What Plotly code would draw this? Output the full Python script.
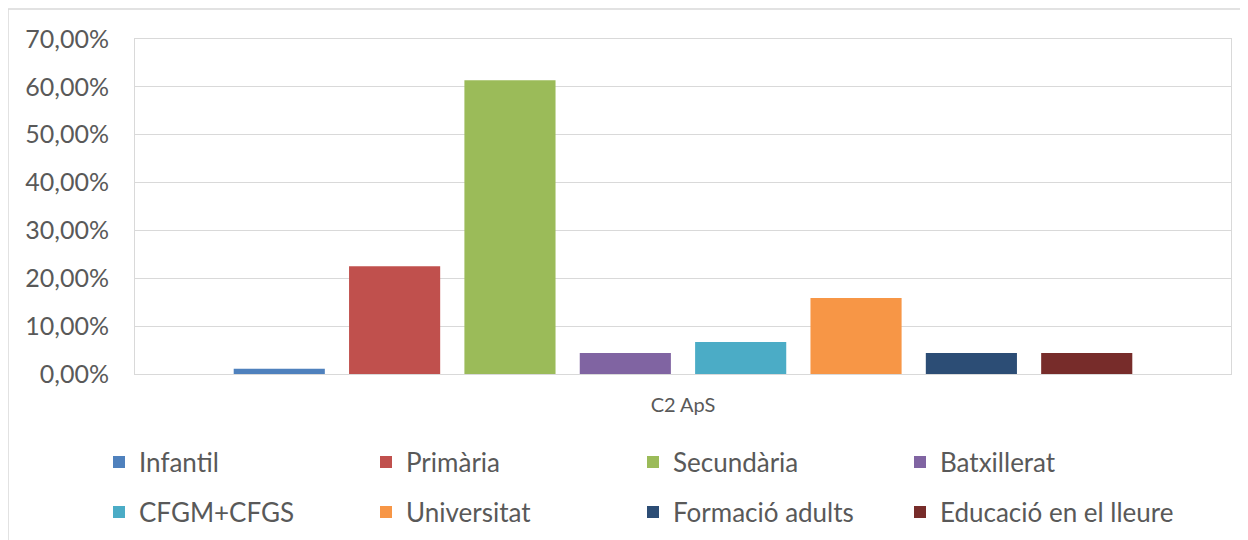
import plotly.graph_objects as go

category = ["C2 ApS"]
series_names = ["Infantil", "Primària", "Secundària", "Batxillerat",
                "CFGM+CFGS", "Universitat", "Formació adults", "Educació en el lleure"]
series_values = [0.011, 0.225, 0.614, 0.044, 0.067, 0.159, 0.044, 0.044]
series_colors = ["#4F81BD", "#C0504D", "#9BBB59", "#8064A2",
                 "#4BACC6", "#F79646", "#2C4D75", "#772C2A"]
y_ticks = [0, 0.1, 0.2, 0.3, 0.4, 0.5, 0.6, 0.7]

FONT = "Lato"
TXT = "#595959"
GRID = "#d9d9d9"

# page body has an 8px margin: figure occupies page (8,8)-(1248,540)
W, H = 1240, 532
L, R, T, B = 127, 17, 31, 166
PW = W - L - R   # 1096
PH = H - T - B   # 335

legend_ids = ["legend", "legend", "legend", "legend",
              "legend2", "legend2", "legend2", "legend3"]

fig = go.Figure()
for name, val, col, lg in zip(series_names, series_values, series_colors, legend_ids):
    fig.add_trace(go.Bar(
        x=category, y=[val], name=name, marker_color=col,
        marker_line_width=0, legend=lg,
    ))

legend_common = dict(
    orientation="h", xref="container", yref="container",
    xanchor="left", yanchor="middle",
    font=dict(family=FONT, size=26, color=TXT),
    entrywidth=222, entrywidthmode="pixels",
    bgcolor="rgba(0,0,0,0)", borderwidth=0,
    itemclick=False, itemdoubleclick=False,
)
legend_last = dict(legend_common)
legend_last.pop("entrywidth")
legend_last.pop("entrywidthmode")

fig.update_layout(
    width=W, height=H,
    margin=dict(l=L, r=R, t=T, b=B),
    paper_bgcolor="white", plot_bgcolor="white",
    barmode="group", bargap=0.158, bargroupgap=0.21,
    separators=",.",
    font=dict(family=FONT, color=TXT),
    showlegend=True,
    legend=dict(x=91 / W, y=1 - 454 / H, **legend_common),
    legend2=dict(x=91 / W, y=1 - 504 / H, **legend_common),
    legend3=dict(x=(91 + 3 * 267) / W, y=1 - 504 / H, **legend_last),
    xaxis=dict(
        type="category",
        showline=True, linecolor=GRID, linewidth=1, mirror=True,
        showgrid=False,
        ticks="outside", ticklen=13, tickcolor="rgba(0,0,0,0)",
        tickfont=dict(family=FONT, size=20, color=TXT),
    ),
    yaxis=dict(
        range=[0, 0.7], tickvals=y_ticks, tickformat=".2%",
        showline=True, linecolor=GRID, linewidth=1, mirror=True,
        showgrid=True, gridcolor=GRID, gridwidth=1,
        zeroline=False,
        ticks="outside", ticklen=20, tickcolor="rgba(0,0,0,0)",
        tickfont=dict(family=FONT, size=25, color=TXT),
    ),
    shapes=[dict(
        type="rect", xref="paper", yref="paper",
        x0=(0 - L) / PW, x1=(W + 20 - L) / PW,
        y0=(T + PH - (H + 20)) / PH, y1=(T + PH - 1) / PH,
        line=dict(color=GRID, width=1.5), fillcolor="rgba(0,0,0,0)",
        layer="below",
    )],
)

fig.write_html("out.html")
